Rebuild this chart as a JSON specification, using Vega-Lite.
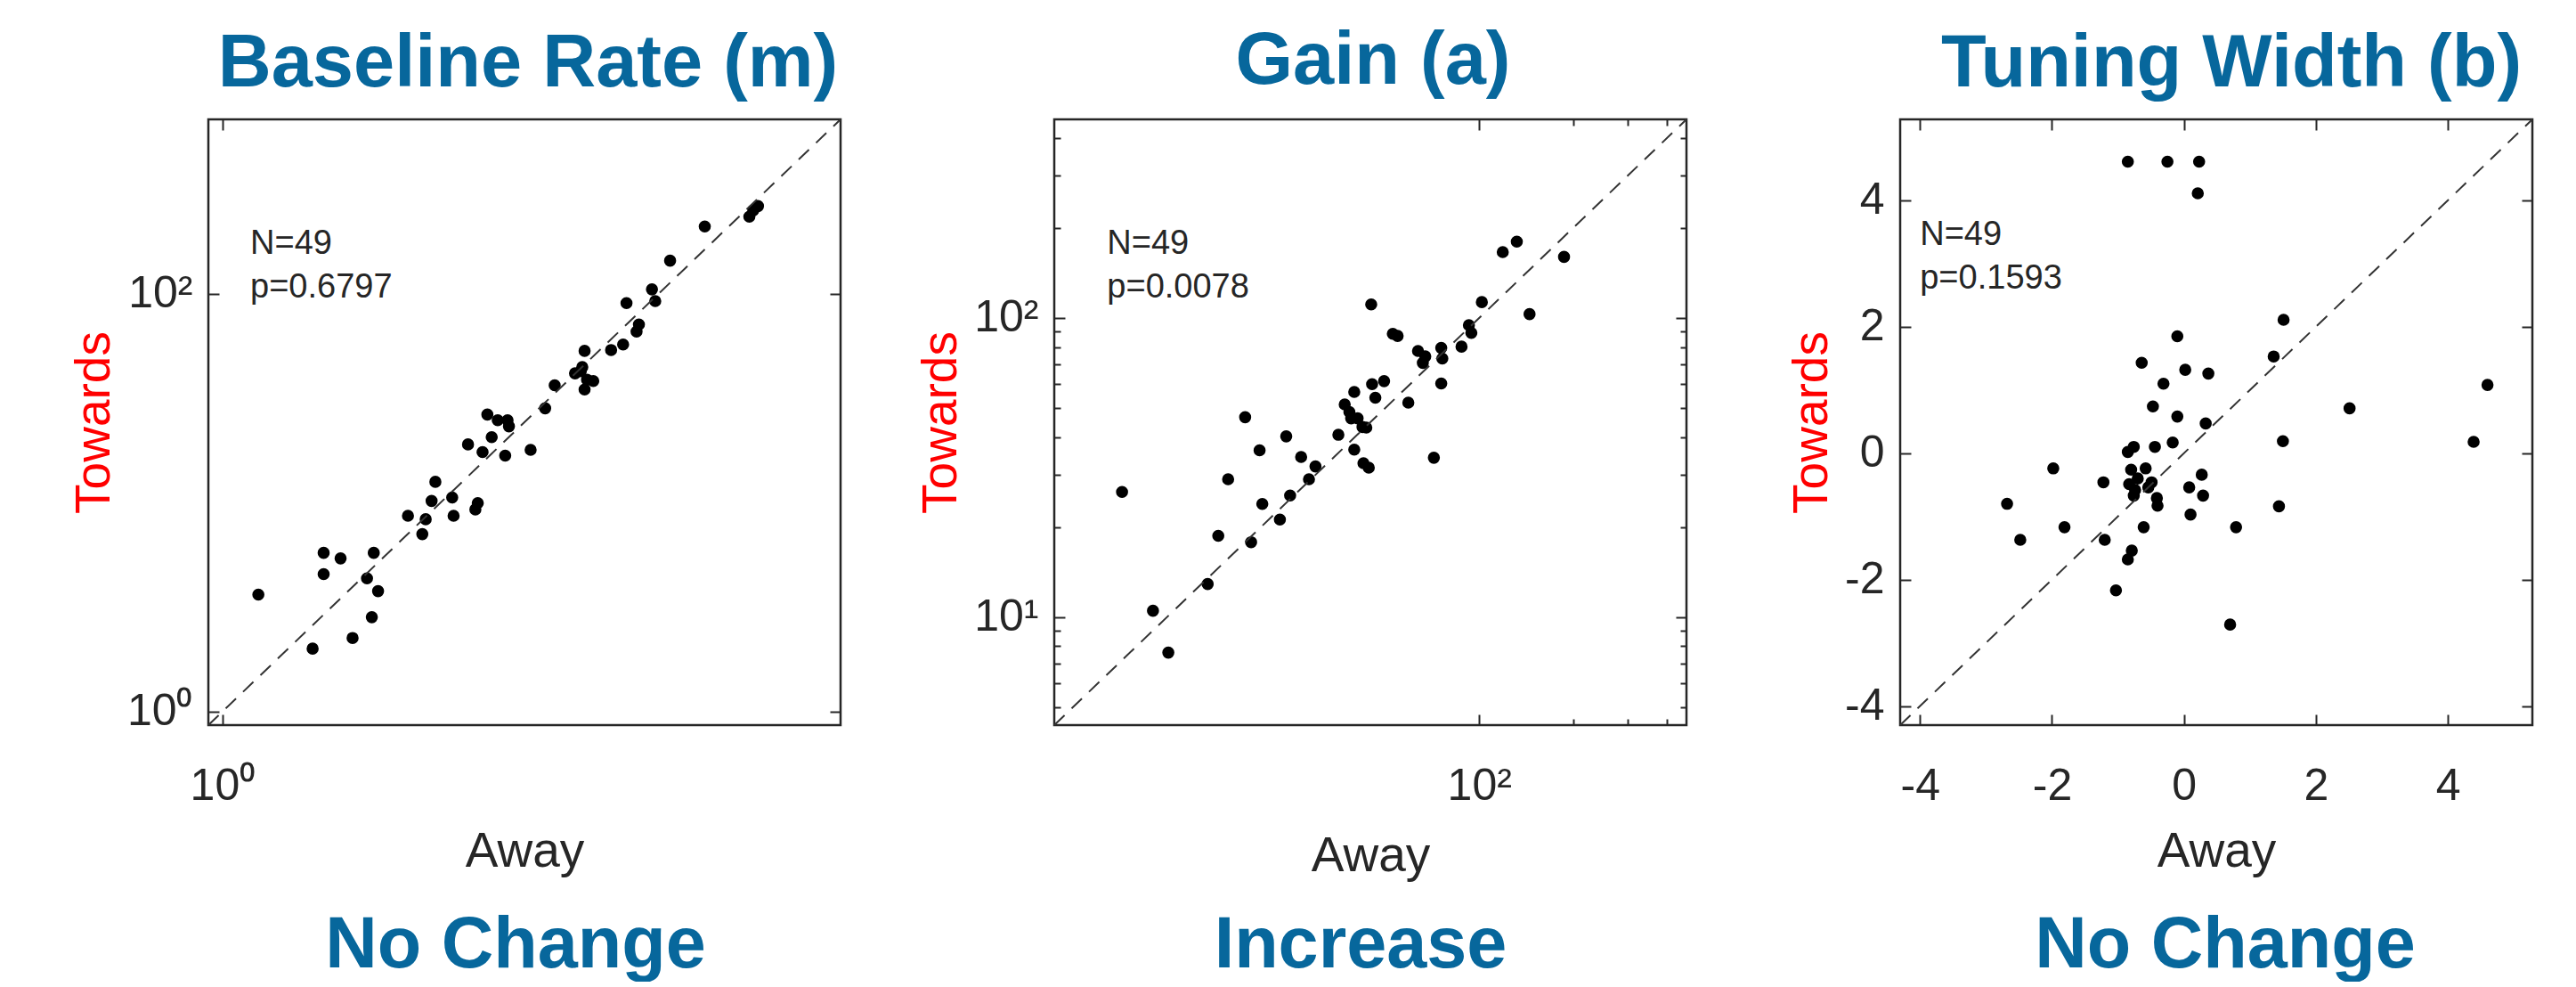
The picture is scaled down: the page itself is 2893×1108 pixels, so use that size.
{
  "$schema": "https://vega.github.io/schema/vega-lite/v6.json",
  "background": "white",
  "padding": {"left": 77, "top": 26, "right": 0, "bottom": 0},
  "config": {
    "font": "Liberation Sans",
    "view": {"stroke": "#262626", "strokeWidth": 2.5},
    "axis": {"domain": false, "grid": false, "ticks": true, "tickSize": -12, "tickWidth": 2, "tickColor": "#262626", "labelFont": "Liberation Sans", "labelFontSize": 50, "labelColor": "#262626", "labelFlush": false, "labelOverlap": false, "titleFont": "Liberation Sans", "titleFontSize": 55, "titleFontWeight": "normal", "titleColor": "#262626"},
    "axisX": {"labelPadding": 55, "titlePadding": 22},
    "axisY": {"labelPadding": 30, "titlePadding": 8, "titleColor": "#ff0000"},
    "title": {"font": "Liberation Sans", "fontSize": 83, "fontWeight": "bold", "color": "#07679c", "baseline": "alphabetic", "offset": 19, "anchor": "middle"}
  },
  "concat": [
    {
      "width": 710, "height": 680,
      "title": {"text": "Baseline Rate (m)", "dx": 4},
      "layer": [
        {
          "data": {"values": [
            {"away": 1.46, "towards": 3.63}, {"away": 2.59, "towards": 2.00}, {"away": 2.91, "towards": 5.75}, {"away": 2.91, "towards": 4.55},
            {"away": 3.48, "towards": 5.41}, {"away": 3.95, "towards": 2.25}, {"away": 4.60, "towards": 4.34}, {"away": 4.84, "towards": 2.83},
            {"away": 4.94, "towards": 5.75}, {"away": 5.17, "towards": 3.77}, {"away": 7.09, "towards": 8.65}, {"away": 8.25, "towards": 7.07},
            {"away": 8.55, "towards": 8.33}, {"away": 9.47, "towards": 12.58}, {"away": 9.10, "towards": 10.19}, {"away": 11.31, "towards": 10.58},
            {"away": 11.48, "towards": 8.65}, {"away": 14.45, "towards": 9.28}, {"away": 14.82, "towards": 9.95}, {"away": 13.37, "towards": 19.0},
            {"away": 15.59, "towards": 17.47}, {"away": 17.17, "towards": 20.6}, {"away": 16.4, "towards": 26.4}, {"away": 18.3, "towards": 24.8},
            {"away": 19.8, "towards": 16.8}, {"away": 20.3, "towards": 24.8}, {"away": 20.6, "towards": 23.2}, {"away": 25.9, "towards": 17.9},
            {"away": 30.2, "towards": 28.3}, {"away": 33.4, "towards": 36.5}, {"away": 41.4, "towards": 41.6}, {"away": 44.0, "towards": 42.6},
            {"away": 45.8, "towards": 53.3}, {"away": 45.8, "towards": 34.8}, {"away": 47.0, "towards": 38.8}, {"away": 50.2, "towards": 38.2},
            {"away": 60.6, "towards": 53.8}, {"away": 68.8, "towards": 57.2}, {"away": 79.3, "towards": 65.9}, {"away": 81.3, "towards": 71.3},
            {"away": 71.3, "towards": 90.2}, {"away": 93.3, "towards": 105}, {"away": 96.6, "towards": 92.3}, {"away": 113, "towards": 144},
            {"away": 163, "towards": 210}, {"away": 261, "towards": 234}, {"away": 272, "towards": 251}, {"away": 286, "towards": 263},
            {"away": 44.7, "towards": 44.6}
          ]},
          "mark": {"type": "circle", "size": 185, "color": "#000000", "opacity": 1},
          "encoding": {
            "x": {"field": "away", "type": "quantitative", "scale": {"type": "log", "domain": [0.861, 684], "nice": false},
                  "axis": {"title": "Away", "values": [1], "labelExpr": "'10⁰'"}},
            "y": {"field": "towards", "type": "quantitative", "scale": {"type": "log", "domain": [0.861, 684], "nice": false},
                  "axis": {"title": "Towards", "values": [1, 100], "labelExpr": "datum.value == 1 ? '10⁰' : '10²'"}}
          }
        },
        {
          "data": {"values": [{}]},
          "mark": {"type": "rule", "color": "#333333", "strokeWidth": 2, "strokeDash": [16, 11]},
          "encoding": {
            "x": {"datum": 0.861, "type": "quantitative", "axis": {"orient": "top", "labels": false, "title": null, "values": [1]}},
            "y": {"datum": 0.861, "type": "quantitative", "axis": {"orient": "right", "labels": false, "title": null, "values": [1, 100]}},
            "x2": {"datum": 684},
            "y2": {"datum": 684}
          }
        },
        {
          "data": {"values": [{}]},
          "mark": {"type": "text", "align": "left", "baseline": "alphabetic", "fontSize": 38, "lineHeight": 49, "color": "#262626"},
          "encoding": {
            "x": {"datum": 1.34, "type": "quantitative", "axis": null},
            "y": {"datum": 156, "type": "quantitative", "axis": null},
            "text": {"value": ["N=49", "p=0.6797"]}
          }
        }
      ],
      "resolve": {"axis": {"x": "independent", "y": "independent"}}
    },
    {
      "width": 710, "height": 680,
      "title": {"text": "Gain (a)", "dx": 3},
      "layer": [
        {
          "data": {"values": [
            {"away": 7.18, "towards": 26.2}, {"away": 9.02, "towards": 10.5}, {"away": 10.1, "towards": 7.61}, {"away": 13.5, "towards": 12.9},
            {"away": 14.6, "towards": 18.7}, {"away": 15.7, "towards": 28.9}, {"away": 17.8, "towards": 46.6}, {"away": 18.6, "towards": 17.8},
            {"away": 19.8, "towards": 36.1}, {"away": 20.2, "towards": 23.9}, {"away": 23.0, "towards": 21.2}, {"away": 24.1, "towards": 40.2},
            {"away": 24.8, "towards": 25.5}, {"away": 26.9, "towards": 34.3}, {"away": 28.5, "towards": 28.9}, {"away": 29.9, "towards": 31.9},
            {"away": 35.4, "towards": 40.7}, {"away": 37.1, "towards": 51.4}, {"away": 38.4, "towards": 48.5}, {"away": 39.8, "towards": 56.6},
            {"away": 39.8, "towards": 36.3}, {"away": 40.8, "towards": 46.2}, {"away": 42.3, "towards": 43.2}, {"away": 43.5, "towards": 43.0},
            {"away": 42.6, "towards": 32.7}, {"away": 44.3, "towards": 31.6}, {"away": 45.1, "towards": 111}, {"away": 45.4, "towards": 60.1},
            {"away": 46.5, "towards": 54.1}, {"away": 49.6, "towards": 61.5}, {"away": 52.9, "towards": 88.5}, {"away": 54.8, "towards": 87.1},
            {"away": 59.3, "towards": 52.1}, {"away": 63.7, "towards": 77.6}, {"away": 66.0, "towards": 70.8}, {"away": 67.2, "towards": 74.4},
            {"away": 71.6, "towards": 34.1}, {"away": 75.6, "towards": 79.4}, {"away": 76.2, "towards": 73.2}, {"away": 75.6, "towards": 60.4},
            {"away": 87.8, "towards": 80.2}, {"away": 92.7, "towards": 94.6}, {"away": 94.4, "towards": 89.1}, {"away": 102, "towards": 113},
            {"away": 119, "towards": 166}, {"away": 132, "towards": 180}, {"away": 145, "towards": 103}, {"away": 187, "towards": 160},
            {"away": 38.9, "towards": 46.2}
          ]},
          "mark": {"type": "circle", "size": 185, "color": "#000000", "opacity": 1},
          "encoding": {
            "x": {"field": "away", "type": "quantitative", "scale": {"type": "log", "domain": [4.355, 461.3], "nice": false},
                  "axis": {"title": "Away", "values": [100, 200, 300, 400], "labelExpr": "datum.value == 100 ? '10²' : ''",
                           "tickSize": {"condition": {"test": "datum.value == 100", "value": -12}, "value": -7}}},
            "y": {"field": "towards", "type": "quantitative", "scale": {"type": "log", "domain": [4.355, 461.3], "nice": false},
                  "axis": {"title": "Towards", "values": [5, 6, 7, 8, 9, 10, 20, 30, 40, 50, 60, 70, 80, 90, 100, 200, 300, 400],
                           "labelExpr": "datum.value == 10 ? '10¹' : datum.value == 100 ? '10²' : ''",
                           "tickSize": {"condition": {"test": "datum.value == 10 || datum.value == 100", "value": -12}, "value": -7}}}
          }
        },
        {
          "data": {"values": [{}]},
          "mark": {"type": "rule", "color": "#333333", "strokeWidth": 2, "strokeDash": [16, 11]},
          "encoding": {
            "x": {"datum": 4.355, "type": "quantitative", "axis": {"orient": "top", "labels": false, "title": null, "values": [100, 200, 300, 400],
                  "tickSize": {"condition": {"test": "datum.value == 100", "value": -12}, "value": -7}}},
            "y": {"datum": 4.355, "type": "quantitative", "axis": {"orient": "right", "labels": false, "title": null, "values": [5, 6, 7, 8, 9, 10, 20, 30, 40, 50, 60, 70, 80, 90, 100, 200, 300, 400],
                  "tickSize": {"condition": {"test": "datum.value == 10 || datum.value == 100", "value": -12}, "value": -7}}},
            "x2": {"datum": 461.3},
            "y2": {"datum": 461.3}
          }
        },
        {
          "data": {"values": [{}]},
          "mark": {"type": "text", "align": "left", "baseline": "alphabetic", "fontSize": 38, "lineHeight": 49, "color": "#262626"},
          "encoding": {
            "x": {"datum": 6.43, "type": "quantitative", "axis": null},
            "y": {"datum": 164, "type": "quantitative", "axis": null},
            "text": {"value": ["N=49", "p=0.0078"]}
          }
        }
      ],
      "resolve": {"axis": {"x": "independent", "y": "independent"}}
    },
    {
      "width": 710, "height": 680,
      "title": {"text": "Tuning Width (b)", "dx": 17},
      "layer": [
        {
          "data": {"values": [
            {"away": -0.85, "towards": 4.61}, {"away": -0.25, "towards": 4.61}, {"away": 0.23, "towards": 4.61}, {"away": 0.21, "towards": 4.11},
            {"away": 1.51, "towards": 2.11}, {"away": -0.10, "towards": 1.85}, {"away": 1.36, "towards": 1.53}, {"away": -0.64, "towards": 1.43},
            {"away": 0.02, "towards": 1.32}, {"away": 0.37, "towards": 1.26}, {"away": -0.31, "towards": 1.10}, {"away": 4.60, "towards": 1.08},
            {"away": 2.51, "towards": 0.71}, {"away": -0.47, "towards": 0.74}, {"away": -0.10, "towards": 0.58}, {"away": 0.33, "towards": 0.47},
            {"away": -0.17, "towards": 0.17}, {"away": 1.50, "towards": 0.19}, {"away": 4.39, "towards": 0.18}, {"away": -0.85, "towards": 0.02},
            {"away": -0.76, "towards": 0.10}, {"away": -0.44, "towards": 0.10}, {"away": -1.98, "towards": -0.24}, {"away": -0.80, "towards": -0.26},
            {"away": -0.58, "towards": -0.24}, {"away": 0.27, "towards": -0.34}, {"away": -1.22, "towards": -0.46}, {"away": -0.83, "towards": -0.49},
            {"away": -0.49, "towards": -0.46}, {"away": 0.08, "towards": -0.54}, {"away": -2.68, "towards": -0.80}, {"away": -0.76, "towards": -0.67},
            {"away": -0.41, "towards": -0.71}, {"away": 0.29, "towards": -0.67}, {"away": -0.40, "towards": -0.83}, {"away": 1.44, "towards": -0.84},
            {"away": 0.10, "towards": -0.97}, {"away": -2.48, "towards": -1.37}, {"away": -1.81, "towards": -1.17}, {"away": -0.61, "towards": -1.17},
            {"away": 0.79, "towards": -1.17}, {"away": -1.20, "towards": -1.37}, {"away": -0.79, "towards": -1.54}, {"away": -0.85, "towards": -1.68},
            {"away": -1.03, "towards": -2.17}, {"away": 0.70, "towards": -2.71}, {"away": -0.74, "towards": -0.58}, {"away": -0.54, "towards": -0.54},
            {"away": -0.70, "towards": -0.40}
          ]},
          "mark": {"type": "circle", "size": 185, "color": "#000000", "opacity": 1},
          "encoding": {
            "x": {"field": "away", "type": "quantitative", "scale": {"domain": [-4.3, 5.28], "nice": false, "zero": false},
                  "axis": {"title": "Away", "values": [-4, -2, 0, 2, 4], "labelExpr": "'' + datum.value"}},
            "y": {"field": "towards", "type": "quantitative", "scale": {"domain": [-4.3, 5.28], "nice": false, "zero": false},
                  "axis": {"title": "Towards", "values": [-4, -2, 0, 2, 4], "labelExpr": "'' + datum.value"}}
          }
        },
        {
          "data": {"values": [{}]},
          "mark": {"type": "rule", "color": "#333333", "strokeWidth": 2, "strokeDash": [16, 11]},
          "encoding": {
            "x": {"datum": -4.3, "type": "quantitative", "axis": {"orient": "top", "labels": false, "title": null, "values": [-4, -2, 0, 2, 4]}},
            "y": {"datum": -4.3, "type": "quantitative", "axis": {"orient": "right", "labels": false, "title": null, "values": [-4, -2, 0, 2, 4]}},
            "x2": {"datum": 5.28},
            "y2": {"datum": 5.28}
          }
        },
        {
          "data": {"values": [{}]},
          "mark": {"type": "text", "align": "left", "baseline": "alphabetic", "fontSize": 38, "lineHeight": 49, "color": "#262626"},
          "encoding": {
            "x": {"datum": -4.0, "type": "quantitative", "axis": null},
            "y": {"datum": 3.29, "type": "quantitative", "axis": null},
            "text": {"value": ["N=49", "p=0.1593"]}
          }
        }
      ],
      "resolve": {"axis": {"x": "independent", "y": "independent"}}
    },
    {
      "width": 710, "height": 2, "view": {"stroke": null},
      "data": {"values": [{"label": "No Change"}]},
      "mark": {"type": "text", "fontSize": 81, "fontWeight": "bold", "color": "#07679c", "baseline": "alphabetic", "dx": -10},
      "encoding": {"text": {"field": "label"}}
    },
    {
      "width": 710, "height": 2, "view": {"stroke": null},
      "data": {"values": [{"label": "Increase"}]},
      "mark": {"type": "text", "fontSize": 81, "fontWeight": "bold", "color": "#07679c", "baseline": "alphabetic", "dx": -11},
      "encoding": {"text": {"field": "label"}}
    },
    {
      "width": 710, "height": 2, "view": {"stroke": null},
      "data": {"values": [{"label": "No Change"}]},
      "mark": {"type": "text", "fontSize": 81, "fontWeight": "bold", "color": "#07679c", "baseline": "alphabetic", "dx": 10},
      "encoding": {"text": {"field": "label"}}
    }
  ],
  "columns": 3,
  "spacing": {"row": 271, "column": 240},
  "bounds": "flush"
}
